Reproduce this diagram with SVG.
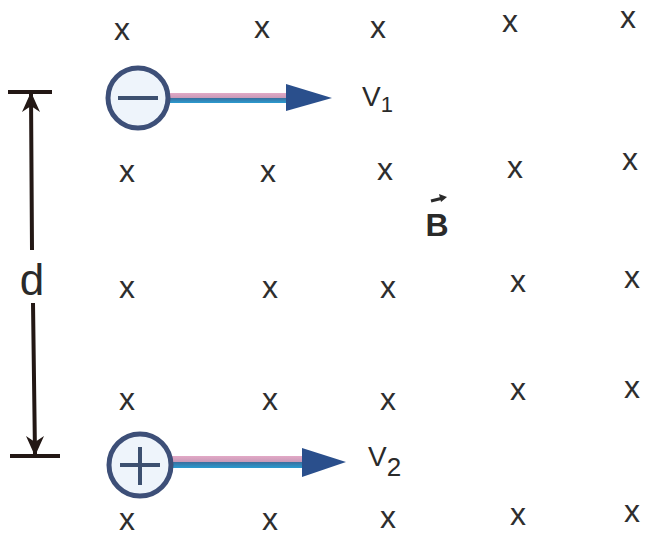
<svg xmlns="http://www.w3.org/2000/svg" width="645" height="538" viewBox="0 0 645 538">
<style>
.x{font-family:"Liberation Sans",Arial,sans-serif;font-size:32px;fill:#2e2e2e;text-anchor:middle}
.lbl{font-family:"Liberation Sans",Arial,sans-serif;fill:#2a2a2a}
.dim{stroke:#231815;stroke-width:4;fill:none}
.ring{fill:#eef4fb;stroke:#3d4f78;stroke-width:5}
.sign{stroke:#3d5070;stroke-width:4}
</style>
<defs>
<linearGradient id="shaft" x1="0" y1="0" x2="0" y2="1">
<stop offset="0" stop-color="#e3a9c6"/>
<stop offset="0.5" stop-color="#c79ab8"/>
<stop offset="0.5" stop-color="#3a6f9e"/>
<stop offset="1" stop-color="#2a9bd0"/>
</linearGradient>
</defs>
<g id="field">
<text class="x" x="122" y="40">x</text><text class="x" x="262" y="38">x</text><text class="x" x="378" y="38">x</text><text class="x" x="510" y="32">x</text><text class="x" x="628" y="28">x</text>
<text class="x" x="127" y="182">x</text><text class="x" x="268" y="182">x</text><text class="x" x="385" y="180">x</text><text class="x" x="515" y="178">x</text><text class="x" x="630" y="170">x</text>
<text class="x" x="127" y="298">x</text><text class="x" x="270" y="298">x</text><text class="x" x="388" y="298">x</text><text class="x" x="518" y="292">x</text><text class="x" x="632" y="288">x</text>
<text class="x" x="127" y="410">x</text><text class="x" x="270" y="410">x</text><text class="x" x="388" y="410">x</text><text class="x" x="518" y="400">x</text><text class="x" x="632" y="398">x</text>
<text class="x" x="127" y="530">x</text><text class="x" x="270" y="530">x</text><text class="x" x="388" y="528">x</text><text class="x" x="518" y="525">x</text><text class="x" x="632" y="522">x</text>
</g>
<g id="B">
<text class="lbl" x="437" y="236" font-size="32" font-weight="bold" text-anchor="middle">B</text>
<path d="M431 201 L443 198" stroke="#2a2a2a" stroke-width="3"/>
<path d="M439 194 L447 197 L441 202 Z" fill="#2a2a2a"/>
</g>
<g id="dimension">
<path class="dim" d="M8 92 H52 M10 456 H60 M31 94 L32 250 M33 303 L35 454"/>
<path d="M31 92 L22 112 L31 106 L40 112 Z" fill="#231815"/>
<path d="M35 456 L26 436 L35 442 L44 436 Z" fill="#231815"/>
<text class="lbl" x="32" y="295" font-size="44" text-anchor="middle">d</text>
</g>
<g id="particle1">
<rect x="166" y="93" width="122" height="10" fill="url(#shaft)"/>
<path d="M286 84 L332 98 L286 111 Z" fill="#2a4f8c"/>
<circle class="ring" cx="138" cy="98" r="30"/>
<line class="sign" x1="118" y1="98" x2="158" y2="98"/>
<text class="lbl" x="362" y="106" font-size="28">V<tspan font-size="22" dy="6">1</tspan></text>
</g>
<g id="particle2">
<rect x="168" y="456" width="136" height="12" fill="url(#shaft)"/>
<path d="M302 448 L346 462 L302 477 Z" fill="#2a4f8c"/>
<circle class="ring" cx="140" cy="465" r="31"/>
<line class="sign" x1="120" y1="465" x2="160" y2="465"/>
<line class="sign" x1="140" y1="447" x2="140" y2="485"/>
<text class="lbl" x="368" y="466" font-size="28">V<tspan font-size="26" dy="10">2</tspan></text>
</g>
</svg>
